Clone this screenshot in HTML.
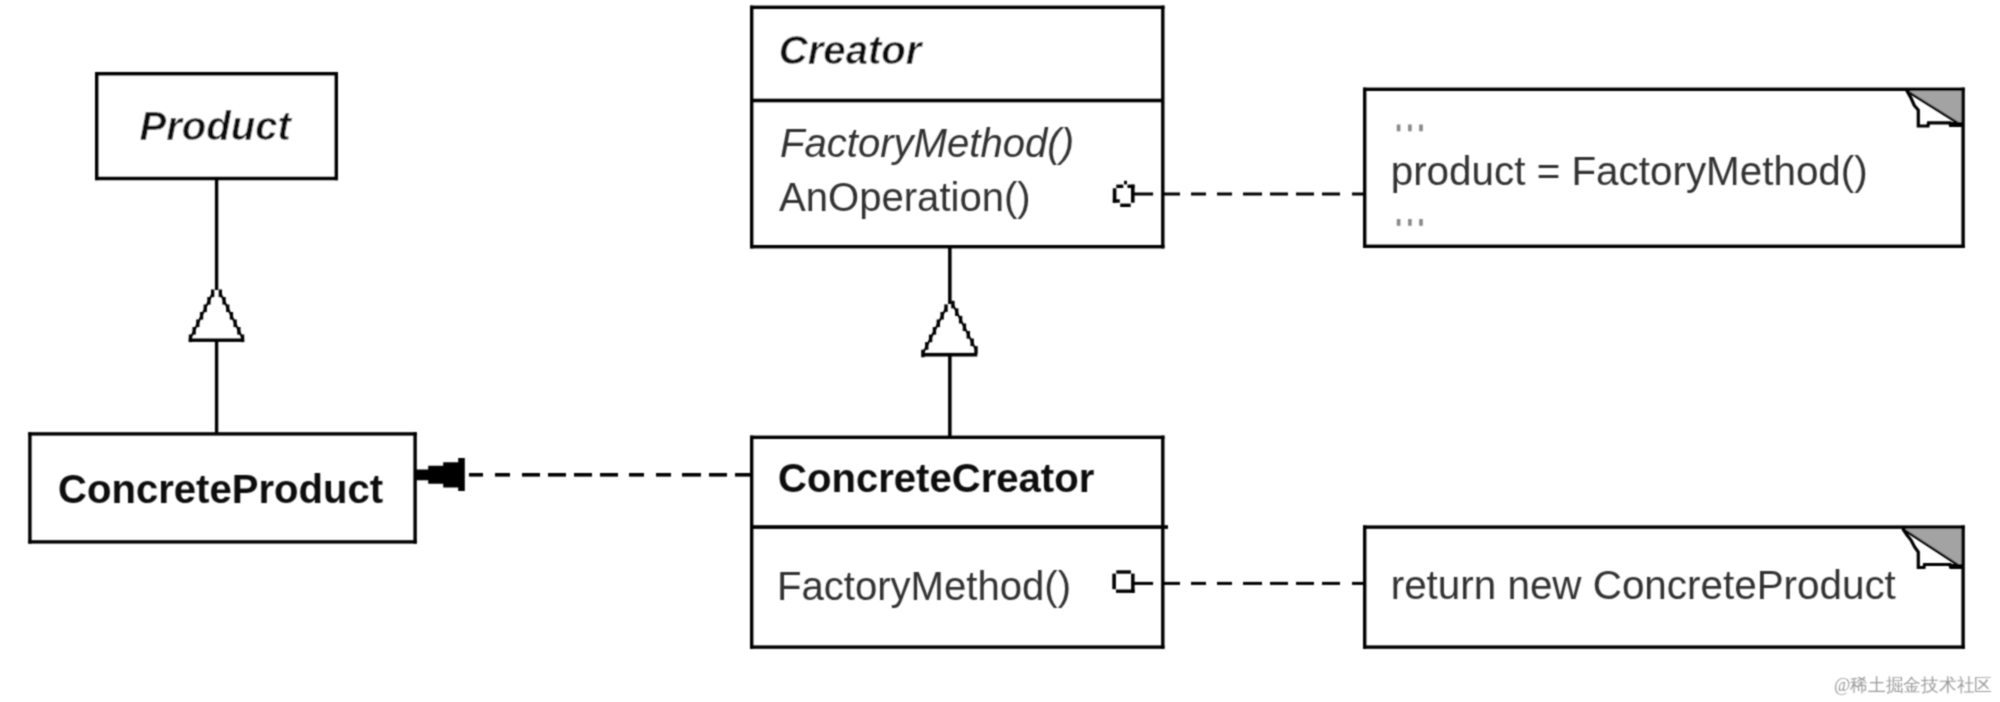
<!DOCTYPE html>
<html><head><meta charset="utf-8"><style>
html,body{margin:0;padding:0;background:#fff;width:2000px;height:702px;overflow:hidden}
svg{display:block}
</style></head><body>
<svg width="2000" height="702" viewBox="0 0 2000 702">
<defs><filter id="bl" x="0" y="0" width="2000" height="702" filterUnits="userSpaceOnUse"><feConvolveMatrix order="3" kernelMatrix="1 2 1 2 6 2 1 2 1" divisor="18" edgeMode="none"/></filter></defs>
<rect width="2000" height="702" fill="#fff"/>
<g filter="url(#bl)">
<g fill="#000">
<rect x="95" y="72" width="243" height="3.4"/><rect x="95" y="176.79999999999998" width="243" height="3.4"/><rect x="95" y="72" width="3.4" height="108.19999999999999"/><rect x="334.6" y="72" width="3.4" height="108.19999999999999"/>
<rect x="214.9" y="180" width="3.4" height="110"/>
<rect x="211.00" y="289.50" width="3.3" height="7.6"/>
<rect x="218.70" y="289.50" width="3.3" height="7.6"/>
<rect x="207.30" y="297.00" width="3.3" height="7.6"/>
<rect x="222.40" y="297.00" width="3.3" height="7.6"/>
<rect x="203.60" y="304.50" width="3.3" height="7.6"/>
<rect x="226.10" y="304.50" width="3.3" height="7.6"/>
<rect x="199.90" y="312.00" width="3.3" height="7.6"/>
<rect x="229.80" y="312.00" width="3.3" height="7.6"/>
<rect x="196.20" y="319.50" width="3.3" height="7.6"/>
<rect x="233.50" y="319.50" width="3.3" height="7.6"/>
<rect x="192.50" y="327.00" width="3.3" height="7.6"/>
<rect x="237.20" y="327.00" width="3.3" height="7.6"/>
<rect x="188.80" y="334.50" width="3.3" height="7.6"/>
<rect x="240.90" y="334.50" width="3.3" height="7.6"/>
<line x1="212.65" y1="293.30" x2="190.45" y2="338.30" stroke="#000" stroke-width="2.0"/><line x1="220.35" y1="293.30" x2="242.55" y2="338.30" stroke="#000" stroke-width="2.0"/>
<rect x="188.7" y="338.5" width="55.5" height="3.4"/>
<rect x="214.9" y="341" width="3.4" height="93"/>
<rect x="28.2" y="432.2" width="388.6" height="3.4"/><rect x="28.2" y="540.2" width="388.6" height="3.4"/><rect x="28.2" y="432.2" width="3.4" height="111.40000000000003"/><rect x="413.40000000000003" y="432.2" width="3.4" height="111.40000000000003"/>
<path d="M416 469.4H428.2V465.8H443.2V462.2H458.2V458H464.8V491H458.2V487.4H443.2V483.8H428.2V480.2H416Z"/>
<rect x="469" y="473" width="14" height="3.6"/>
<rect x="495" y="473" width="15" height="3.6"/>
<rect x="522" y="473" width="18" height="3.6"/>
<rect x="548" y="473" width="18" height="3.6"/>
<rect x="574" y="473" width="18" height="3.6"/>
<rect x="600" y="473" width="18" height="3.6"/>
<rect x="629" y="473" width="15" height="3.6"/>
<rect x="656" y="473" width="15" height="3.6"/>
<rect x="682" y="473" width="19" height="3.6"/>
<rect x="709" y="473" width="18" height="3.6"/>
<rect x="735" y="473" width="15" height="3.6"/>
<rect x="750" y="5.6" width="414.5" height="3.4"/><rect x="750" y="245.0" width="414.5" height="3.4"/><rect x="750" y="5.6" width="3.4" height="242.8"/><rect x="1161.1" y="5.6" width="3.4" height="242.8"/>
<rect x="750" y="98.7" width="414" height="3.6"/>
<rect x="948.1" y="248" width="3.5" height="56"/>
<rect x="944.30" y="304.40" width="3.4" height="7.6"/>
<rect x="951.20" y="300.80" width="3.4" height="7.6"/>
<rect x="940.45" y="311.95" width="3.4" height="7.6"/>
<rect x="955.05" y="308.35" width="3.4" height="7.6"/>
<rect x="936.60" y="319.50" width="3.4" height="7.6"/>
<rect x="958.90" y="315.90" width="3.4" height="7.6"/>
<rect x="932.75" y="327.05" width="3.4" height="7.6"/>
<rect x="962.75" y="323.45" width="3.4" height="7.6"/>
<rect x="928.90" y="334.60" width="3.4" height="7.6"/>
<rect x="966.60" y="331.00" width="3.4" height="7.6"/>
<rect x="925.05" y="342.15" width="3.4" height="7.6"/>
<rect x="970.45" y="338.55" width="3.4" height="7.6"/>
<rect x="921.20" y="349.70" width="3.4" height="7.6"/>
<rect x="974.30" y="346.10" width="3.4" height="7.6"/>
<line x1="946.00" y1="308.20" x2="922.90" y2="353.50" stroke="#000" stroke-width="2.0"/><line x1="952.90" y1="304.60" x2="976.00" y2="349.90" stroke="#000" stroke-width="2.0"/>
<rect x="921.8" y="352.9" width="55.5" height="3.6"/>
<rect x="948.1" y="355" width="3.5" height="82"/>
<rect x="750" y="435.6" width="414.5" height="3.4"/><rect x="750" y="645.4" width="414.5" height="3.4"/><rect x="750" y="435.6" width="3.4" height="213.19999999999993"/><rect x="1161.1" y="435.6" width="3.4" height="213.19999999999993"/>
<rect x="750" y="525.2" width="418" height="3.7"/>
<rect x="1124" y="180.8" width="3" height="3.6"/><rect x="1116.3" y="184.6" width="7" height="3.4"/><rect x="1127.5" y="184.6" width="7" height="3.4"/><rect x="1112.8" y="188.3" width="3.6" height="14.4"/><rect x="1112.8" y="199.3" width="7" height="3.4"/><rect x="1120.2" y="203.6" width="10.5" height="3.4"/><rect x="1131" y="184.6" width="3.6" height="18.1"/><rect x="1134" y="192.5" width="19.1" height="3"/>
<rect x="1116.3" y="570.3" width="14.6" height="3.4"/><rect x="1112.3" y="573.6" width="3.6" height="15.6"/><rect x="1116" y="589.5" width="18.6" height="3.4"/><rect x="1131.1" y="573.6" width="3.5" height="19.3"/><rect x="1134" y="581.9" width="19.1" height="3"/>
<rect x="1164" y="192.5" width="16" height="3.0"/>
<rect x="1191" y="192.5" width="15" height="3.0"/>
<rect x="1217" y="192.5" width="15" height="3.0"/>
<rect x="1243" y="192.5" width="19" height="3.0"/>
<rect x="1270" y="192.5" width="18" height="3.0"/>
<rect x="1296" y="192.5" width="18" height="3.0"/>
<rect x="1322" y="192.5" width="18" height="3.0"/>
<rect x="1352" y="192.5" width="13" height="3.0"/>
<rect x="1164" y="581.9" width="16" height="3.0"/>
<rect x="1191" y="581.9" width="15" height="3.0"/>
<rect x="1217" y="581.9" width="15" height="3.0"/>
<rect x="1243" y="581.9" width="19" height="3.0"/>
<rect x="1270" y="581.9" width="18" height="3.0"/>
<rect x="1296" y="581.9" width="18" height="3.0"/>
<rect x="1322" y="581.9" width="18" height="3.0"/>
<rect x="1352" y="581.9" width="13" height="3.0"/>
<polygon points="1906,89.5 1963,89.5 1963,126" fill="#a3a3a3"/>
<rect x="1363" y="87.6" width="601.8" height="3.4"/><rect x="1363" y="244.6" width="601.8" height="3.4"/><rect x="1363" y="87.6" width="3.4" height="160.4"/><rect x="1961.3999999999999" y="87.6" width="3.4" height="160.4"/>
<line x1="1906" y1="90.5" x2="1961" y2="125" stroke="#000" stroke-width="2.4"/>
<rect x="1950" y="122" width="12" height="5"/>
<polyline points="1907,91 1911,98 1914.3,105.5 1918.3,110 1918.3,126 1928,126 1928.5,122.8 1950,122.8 1950.5,125.5 1962,125.5" fill="none" stroke="#000" stroke-width="3.2"/>
<polygon points="1902,527.5 1963,527.5 1963,567.5" fill="#a3a3a3"/>
<rect x="1363" y="525.4" width="601.8" height="3.4"/><rect x="1363" y="645.4" width="601.8" height="3.4"/><rect x="1363" y="525.4" width="3.4" height="123.39999999999998"/><rect x="1961.3999999999999" y="525.4" width="3.4" height="123.39999999999998"/>
<line x1="1902" y1="528.5" x2="1961" y2="567" stroke="#000" stroke-width="2.4"/>
<rect x="1950" y="564" width="12" height="5"/>
<polyline points="1903,529 1907,535 1911,540 1914.6,547 1918.3,552 1918.3,567.5 1924,567.5 1924.5,564.5 1950,564.5 1950.5,567 1962,567" fill="none" stroke="#000" stroke-width="3.2"/>
</g>
<text x="139.5" y="139.5" font-family="Liberation Sans, sans-serif" font-size="40.1" font-weight="bold" font-style="italic" fill="#111" stroke="#fff" stroke-width="0.5">Product</text>
<text x="58" y="502.6" font-family="Liberation Sans, sans-serif" font-size="40.1" font-weight="bold" fill="#111">ConcreteProduct</text>
<text x="778.8" y="63.8" font-family="Liberation Sans, sans-serif" font-size="40.1" font-weight="bold" font-style="italic" fill="#111" stroke="#fff" stroke-width="0.5">Creator</text>
<text x="780" y="157.3" font-family="Liberation Sans, sans-serif" font-size="40.1" font-style="italic" fill="#333">FactoryMethod()</text>
<text x="779" y="211.2" font-family="Liberation Sans, sans-serif" font-size="40.1" fill="#333">AnOperation()</text>
<text x="778" y="491.5" font-family="Liberation Sans, sans-serif" font-size="40.1" font-weight="bold" fill="#111">ConcreteCreator</text>
<text x="777" y="600" font-family="Liberation Sans, sans-serif" font-size="40.1" fill="#333">FactoryMethod()</text>
<text x="1390.7" y="184.5" font-family="Liberation Sans, sans-serif" font-size="40.4" fill="#333">product = FactoryMethod()</text>
<text x="1390.7" y="599.2" font-family="Liberation Sans, sans-serif" font-size="40.4" fill="#333">return new ConcreteProduct</text>
<rect x="1396.8" y="124.5" width="3.6" height="6.8" fill="#888"/>
<rect x="1408.1" y="124.5" width="3.6" height="6.8" fill="#888"/>
<rect x="1419.2" y="124.5" width="3.6" height="6.8" fill="#888"/>
<rect x="1396.8" y="219" width="3.6" height="6.8" fill="#888"/>
<rect x="1408.1" y="219" width="3.6" height="6.8" fill="#888"/>
<rect x="1419.2" y="219" width="3.6" height="6.8" fill="#888"/>
<text x="1834" y="691" font-family="Liberation Serif, serif" font-size="18" fill="#9a9a9a" textLength="158" lengthAdjust="spacingAndGlyphs">@稀土掘金技术社区</text>
</g>
</svg>
</body></html>
